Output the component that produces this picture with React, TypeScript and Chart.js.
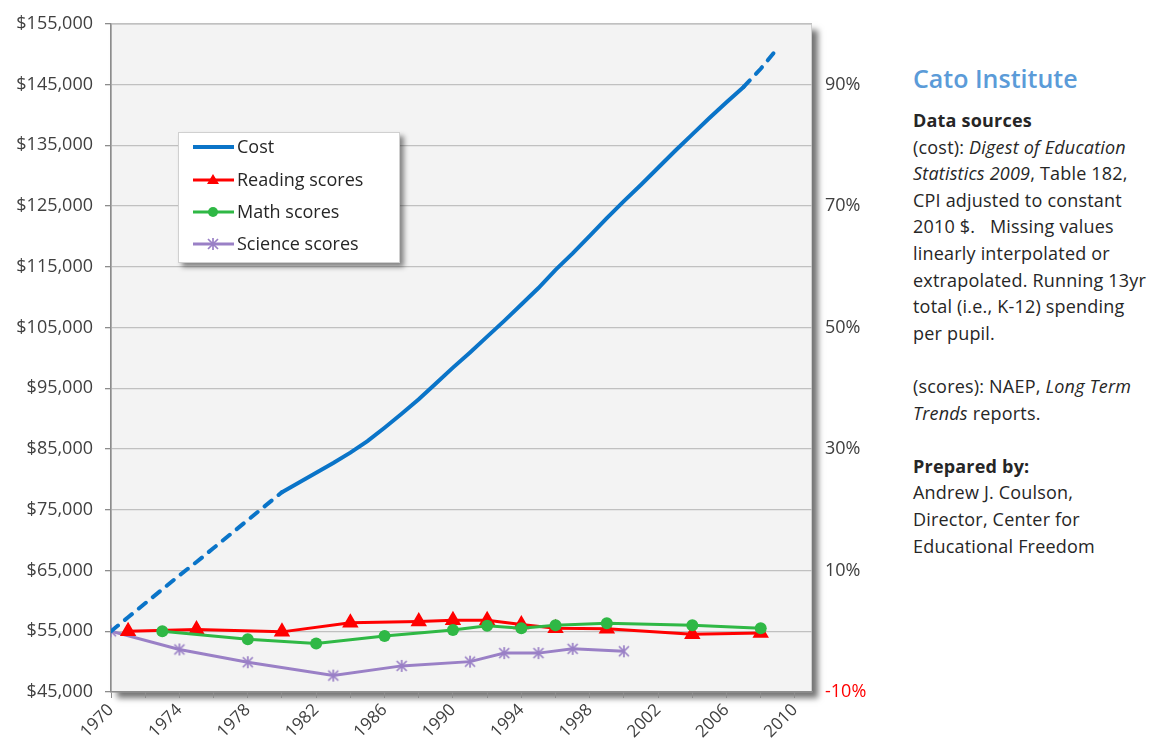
import React, { useEffect, useRef } from 'react';
import { Chart, registerables } from 'chart.js';

Chart.register(...registerables);

// ---- data ----
const costYears = [
  1970, 1971, 1972, 1973, 1974, 1975, 1976, 1977, 1978, 1979,
  1980, 1981, 1982, 1983, 1984, 1985, 1986, 1987, 1988, 1989,
  1990, 1991, 1992, 1993, 1994, 1995, 1996, 1997, 1998, 1999,
  2000, 2001, 2002, 2003, 2004, 2005, 2006, 2007, 2008, 2009,
];
const costValues = [
  55000, 57300, 59600, 61900, 64200, 66400, 68700, 71000, 73300, 75600,
  77900, 79500, 81100, 82700, 84400, 86300, 88500, 90800, 93200, 95800,
  98400, 100900, 103500, 106100, 108800, 111500, 114500, 117200, 120100, 123000,
  125800, 128500, 131300, 134100, 136800, 139500, 142100, 144600, 147600, 151000,
];
const readingYears = [1971, 1975, 1980, 1984, 1988, 1990, 1992, 1994, 1996, 1999, 2004, 2008];
const readingPct = [0, 0.3, -0.1, 1.4, 1.6, 1.8, 1.8, 1.1, 0.5, 0.4, -0.5, -0.3];
const mathYears = [1973, 1978, 1982, 1986, 1990, 1992, 1994, 1996, 1999, 2004, 2008];
const mathPct = [0, -1.3, -2.0, -0.8, 0.2, 0.9, 0.5, 1.0, 1.3, 1.0, 0.5];
const scienceYears = [1970, 1974, 1978, 1983, 1987, 1991, 1993, 1995, 1997, 2000];
const sciencePct = [0, -3.0, -5.1, -7.3, -5.7, -5.0, -3.6, -3.6, -2.9, -3.3];

const seriesNames = ['Cost', 'Reading scores', 'Math scores', 'Science scores'];
const xTickYears = [
  1970, 1972, 1974, 1976, 1978, 1980, 1982, 1984, 1986, 1988, 1990,
  1992, 1994, 1996, 1998, 2000, 2002, 2004, 2006, 2008, 2010,
];
const xLabelYears = [1970, 1974, 1978, 1982, 1986, 1990, 1994, 1998, 2002, 2006, 2010];
const rightTickValues = [-10, 10, 30, 50, 70, 90];

const BLUE = '#0a74c8';
const RED = '#ff0000';
const GREEN = '#2fb845';
const PURPLE = '#9a80c6';
const FONT = "'Open Sans', 'Noto Sans', sans-serif";

function makeStar(color: string, size = 14) {
  const c = document.createElement('canvas');
  c.width = size;
  c.height = size;
  const g = c.getContext('2d')!;
  g.strokeStyle = color;
  g.lineWidth = 1.7;
  g.beginPath();
  g.moveTo(2, 2); g.lineTo(size - 2, size - 2);
  g.moveTo(size - 2, 2); g.lineTo(2, size - 2);
  g.moveTo(size / 2, 1); g.lineTo(size / 2, size - 1);
  g.stroke();
  return c;
}

export default function App() {
  const ref = useRef<HTMLCanvasElement>(null);

  useEffect(() => {
    if (!ref.current) return;
    const star = makeStar(PURPLE);

    const bgPlugin = {
      id: 'bg',
      beforeDraw(chart: any) {
        const { ctx, chartArea: a } = chart;
        ctx.save();
        ctx.shadowColor = 'rgba(0,0,0,0.55)';
        ctx.shadowBlur = 6;
        ctx.shadowOffsetX = 6;
        ctx.shadowOffsetY = 6;
        ctx.fillStyle = '#f3f3f3';
        ctx.fillRect(a.left, a.top, a.width, a.height);
        ctx.restore();
        ctx.save();
        ctx.strokeStyle = '#cfcfcf';
        ctx.lineWidth = 1;
        ctx.strokeRect(a.left + 0.5, a.top + 0.5, a.width - 1, a.height - 1);
        ctx.restore();
      },
    };

    const legendPlugin = {
      id: 'customLegend',
      afterDraw(chart: any) {
        const { ctx } = chart;
        const bx = 178, by = 132, bw = 222, bh = 131;
        ctx.save();
        ctx.shadowColor = 'rgba(0,0,0,0.45)';
        ctx.shadowBlur = 5;
        ctx.shadowOffsetX = 4;
        ctx.shadowOffsetY = 4;
        ctx.fillStyle = '#ffffff';
        ctx.fillRect(bx, by, bw, bh);
        ctx.restore();
        ctx.save();
        ctx.strokeStyle = '#d0d0d0';
        ctx.strokeRect(bx + 0.5, by + 0.5, bw - 1, bh - 1);
        const rows = [147, 180, 212, 244];
        const colors = [BLUE, RED, GREEN, PURPLE];
        const widths = [4, 3, 3, 3];
        for (let i = 0; i < 4; i++) {
          const y = rows[i];
          ctx.strokeStyle = colors[i];
          ctx.lineWidth = widths[i];
          ctx.beginPath();
          ctx.moveTo(193, y);
          ctx.lineTo(234, y);
          ctx.stroke();
          const mx = 213;
          ctx.fillStyle = colors[i];
          if (i === 1) {
            ctx.beginPath();
            ctx.moveTo(mx, y - 6);
            ctx.lineTo(mx + 6, y + 4);
            ctx.lineTo(mx - 6, y + 4);
            ctx.closePath();
            ctx.fill();
          } else if (i === 2) {
            ctx.beginPath();
            ctx.arc(mx, y, 5, 0, Math.PI * 2);
            ctx.fill();
          } else if (i === 3) {
            ctx.drawImage(star, mx - 7, y - 7);
          }
          ctx.fillStyle = '#262626';
          ctx.font = `18px ${FONT}`;
          ctx.textBaseline = 'middle';
          ctx.textAlign = 'left';
          ctx.fillText(seriesNames[i], 237, y + 1);
        }
        ctx.restore();
      },
    };

    const chart = new Chart(ref.current, {
      type: 'line',
      data: {
        datasets: [
          {
            label: seriesNames[0],
            data: costYears.map((x, i) => ({ x, y: costValues[i] })),
            borderColor: BLUE,
            backgroundColor: BLUE,
            borderWidth: 4,
            pointRadius: 0,
            yAxisID: 'y',
            order: 1,
            borderCapStyle: 'round',
            segment: {
              borderDash: (c: any) =>
                c.p0.parsed.x < 1980 || c.p0.parsed.x >= 2007 ? [9, 9] : undefined,
            },
          },
          {
            label: seriesNames[1],
            data: readingYears.map((x, i) => ({ x, y: readingPct[i] })),
            borderColor: RED,
            backgroundColor: RED,
            borderWidth: 3,
            pointStyle: 'triangle',
            pointRadius: 6.5,
            yAxisID: 'y1',
            order: 3,
          },
          {
            label: seriesNames[2],
            data: mathYears.map((x, i) => ({ x, y: mathPct[i] })),
            borderColor: GREEN,
            backgroundColor: GREEN,
            borderWidth: 3,
            pointStyle: 'circle',
            pointRadius: 6,
            pointBorderWidth: 0,
            yAxisID: 'y1',
            order: 2,
          },
          {
            label: seriesNames[3],
            data: scienceYears.map((x, i) => ({ x, y: sciencePct[i] })),
            borderColor: PURPLE,
            backgroundColor: PURPLE,
            borderWidth: 3,
            pointStyle: star as any,
            pointRadius: 7,
            yAxisID: 'y1',
            order: 4,
          },
        ],
      } as any,
      options: {
        responsive: false,
        animation: false,
        layout: { padding: { top: 20, left: 0, right: 0, bottom: 0 } },
        plugins: { legend: { display: false }, tooltip: { enabled: false } },
        scales: {
          x: {
            type: 'linear',
            min: 1970,
            max: 2011,
            afterBuildTicks: (s: any) => {
              s.ticks = xTickYears.map((v) => ({ value: v }));
            },
            afterFit: (s: any) => { s.height = 59; },
            ticks: {
              autoSkip: false,
              maxRotation: 45,
              minRotation: 45,
              padding: 2,
              color: '#404040',
              font: { family: FONT, size: 17 },
              callback: (v: any) => (xLabelYears.includes(Number(v)) ? String(v) : ''),
            },
            grid: { drawOnChartArea: false, drawTicks: true, tickLength: 6, color: '#8c8c8c' },
            border: { display: true, color: '#8c8c8c', width: 1.5 },
          },
          y: {
            type: 'linear',
            position: 'left',
            min: 45000,
            max: 155000,
            afterFit: (s: any) => { s.width = 111; },
            ticks: {
              stepSize: 10000,
              padding: 12,
              color: '#404040',
              font: { family: FONT, size: 18 },
              callback: (v: any) => '$' + Number(v).toLocaleString('en-US'),
            },
            grid: { color: '#c0c0c0', lineWidth: 1.3, tickColor: '#8c8c8c', tickLength: 6 },
            border: { display: true, color: '#8c8c8c', width: 1.5 },
          },
          y1: {
            type: 'linear',
            position: 'right',
            min: -10,
            max: 100,
            afterFit: (s: any) => { s.width = 68; },
            afterBuildTicks: (s: any) => {
              s.ticks = rightTickValues.map((v) => ({ value: v }));
            },
            ticks: {
              padding: 13,
              color: (c: any) => (c.tick && c.tick.value === -10 ? '#ff0000' : '#404040'),
              font: { family: FONT, size: 18 },
              callback: (v: any) => v + '%',
            },
            grid: { display: false, drawTicks: false },
            border: { display: false },
          },
        },
      } as any,
      plugins: [bgPlugin, legendPlugin],
    });
    return () => chart.destroy();
  }, []);

  const text: React.CSSProperties = {
    fontFamily: FONT,
    fontSize: 18,
    lineHeight: '26.6px',
    color: '#262626',
    letterSpacing: '0.2px',
  };

  return (
    <div style={{ position: 'absolute', left: 0, top: 0, width: 1166, height: 751, background: '#ffffff', overflow: 'hidden' }}>
      <canvas ref={ref} width={880} height={751} style={{ position: 'absolute', left: 0, top: 0, width: 880, height: 751 }} />
      <div style={{ position: 'absolute', left: 913, top: 60, fontFamily: FONT, fontSize: 25, fontWeight: 600, color: '#5b9bd8', lineHeight: '36px' }}>
        Cato Institute
      </div>
      <div style={{ ...text, position: 'absolute', left: 913, top: 107, width: 260, whiteSpace: 'nowrap' }}>
        <b style={{ fontWeight: 700 }}>Data sources</b><br />
        (cost): <i>Digest of Education</i><br />
        <i>Statistics 2009</i>, Table 182,<br />
        CPI adjusted to constant<br />
        2010 $.&nbsp;&nbsp;&nbsp;Missing values<br />
        linearly interpolated or<br />
        extrapolated. Running 13yr<br />
        total (i.e., K-12) spending<br />
        per pupil.<br />
        <br />
        (scores): NAEP, <i>Long Term</i><br />
        <i>Trends</i> reports.<br />
        <br />
        <b style={{ fontWeight: 700 }}>Prepared by:</b><br />
        Andrew J. Coulson,<br />
        Director, Center for<br />
        Educational Freedom
      </div>
    </div>
  );
}
